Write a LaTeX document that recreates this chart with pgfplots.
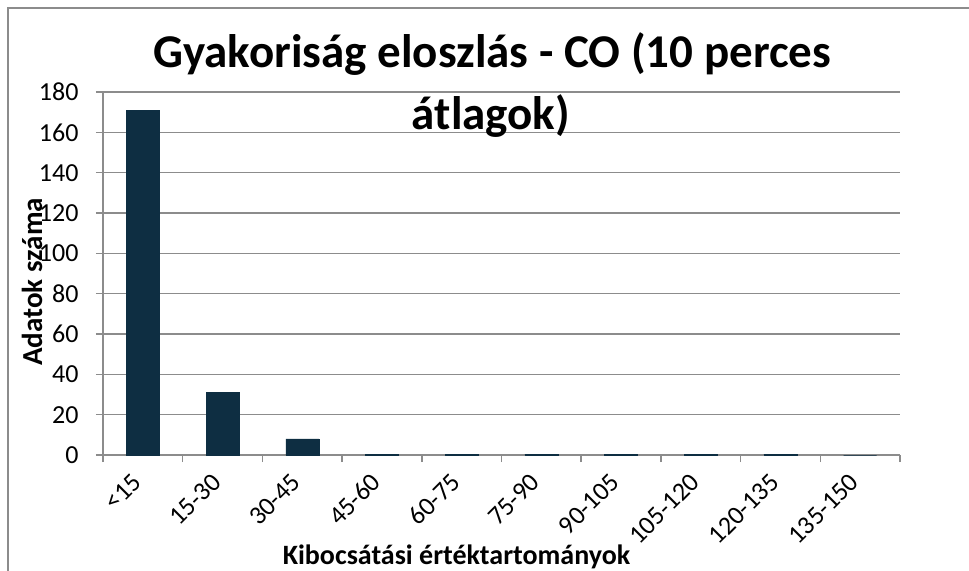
\documentclass[border=0pt]{standalone}
\usepackage{pgfplots}
\pgfplotsset{compat=1.18}
\usepackage{fontspec}
\setmainfont{Carlito}
\definecolor{barcol}{RGB}{14,46,66}
\definecolor{gridcol}{RGB}{140,140,140}
\begin{document}
\begin{tikzpicture}
\begin{axis}[
  at={(103bp,116bp)}, anchor=south west,
  scale only axis, width=797bp, height=363bp,
  xmin=-0.5, xmax=9.5, ymin=0, ymax=180,
  axis x line=bottom, axis y line=left,
  axis line style={draw=gridcol, line width=1.5bp, -},
  ytick={0,20,...,180},
  xtick={0,...,9},
  xticklabels={<15,15-30,30-45,45-60,60-75,75-90,90-105,105-120,120-135,135-150},
  major x tick style={draw=none},
  minor xtick={-0.5,0.5,...,9.5},
  minor x tick style={draw=gridcol, line width=1.5bp},
  y tick style={draw=gridcol, line width=1.5bp},
  tick align=outside,
  major tick length=7bp, minor tick length=7bp,
  ymajorgrids, grid style={draw=gridcol, line width=1.5bp},
  /pgf/number format/assume math mode=true,
  ticklabel style={font=\fontsize{26bp}{30bp}\selectfont},
  yticklabel style={anchor=east, xshift=-14bp},
  xticklabel style={rotate=45, anchor=east, xshift=-12bp, yshift=-7bp},
  xlabel={\bfseries Kibocsátási értéktartományok},
  xlabel style={at={(rel axis cs:0.4435,-0.3003)}, anchor=base, font=\fontsize{28bp}{32bp}\selectfont},
  ylabel={\bfseries Adatok száma},
  ylabel style={at={(rel axis cs:-0.0891,0.4766)}, anchor=center, rotate=0, font=\fontsize{29bp}{33bp}\selectfont},
  clip=false,
]
\addplot[ybar, bar width=33bp, fill=barcol, draw=barcol] coordinates {
(0,171) (1,31) (2,8) (3,0.4) (4,0.4) (5,0.4) (6,0.4) (7,0.4) (8,0.4) (9,0)
};
\end{axis}
\node[anchor=base, font=\bfseries\fontsize{47bp}{53bp}\selectfont] at (492.5bp,503bp) {Gyakoriság eloszlás - CO (10 perces};
\node[anchor=base, font=\bfseries\fontsize{47bp}{53bp}\selectfont] at (491bp,441bp) {átlagok)};
\draw[gridcol, line width=1.5bp] (8bp,0) -- (8bp,563bp) -- (969bp,563bp);
\pgfresetboundingbox
\path[use as bounding box] (0,0) rectangle (969bp,571bp);
\end{tikzpicture}
\end{document}
